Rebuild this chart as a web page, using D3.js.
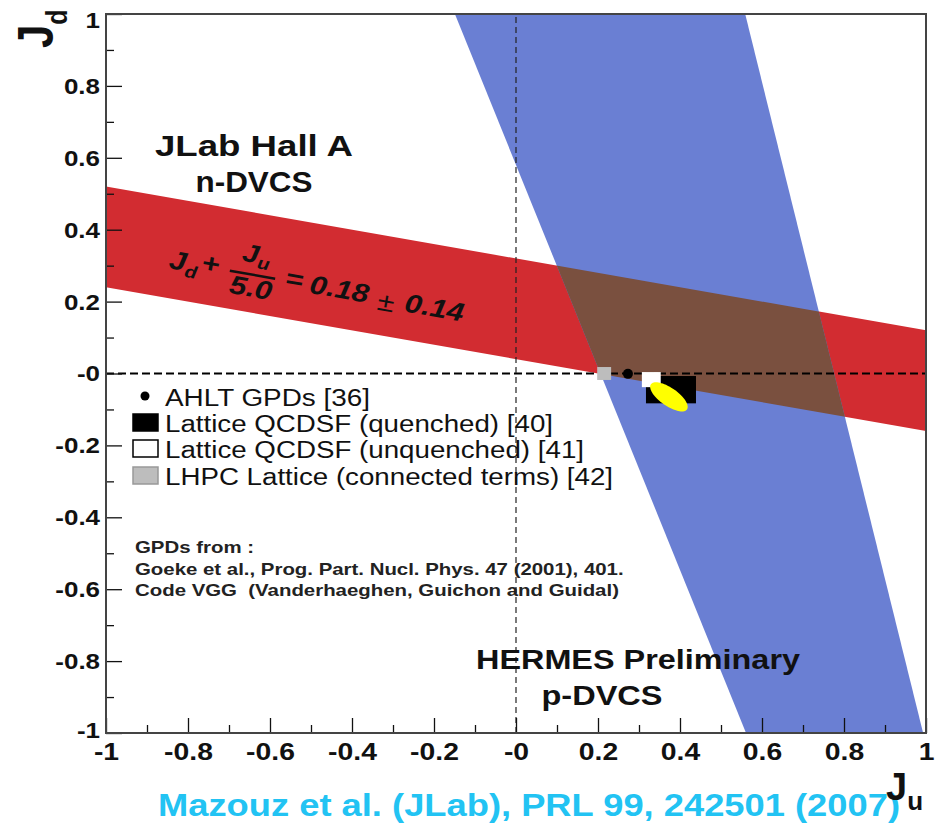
<!DOCTYPE html>
<html>
<head>
<meta charset="utf-8">
<script src="https://cdn.jsdelivr.net/npm/d3@7"></script>
<style>
  body { margin: 0; background: #fff; }
  svg { display: block; }
  text { font-family: "Liberation Sans", Arial, Helvetica, sans-serif; }
</style>
</head>
<body>
<svg id="chart" width="936" height="825"></svg>
<script>
// ---- axes -------------------------------------------------------------
const juDomain = [-1, 1];
const jdDomain = [-1, 1];
const majorTicks = [-1, -0.8, -0.6, -0.4, -0.2, 0, 0.2, 0.4, 0.6, 0.8, 1];
const minorTicks = [-0.9, -0.7, -0.5, -0.3, -0.1, 0.1, 0.3, 0.5, 0.7, 0.9];
const tickLabels = ["-1", "-0.8", "-0.6", "-0.4", "-0.2", "-0", "0.2", "0.4", "0.6", "0.8", "1"];

// ---- JLab Hall A n-DVCS constraint: Jd + Ju/5.0 = 0.18 +- 0.14 ----------
const jlabDenominator = 5.0;
const jlabValue = 0.18;
const jlabError = 0.14;

// ---- HERMES p-DVCS band edges, [Ju, Jd] ---------------------------------
const hermesLeftEdge = [[-0.149, 1], [0.561, -1]];
const hermesRightEdge = [[0.559, 1], [0.993, -1]];

// ---- model / lattice results -------------------------------------------
const ahltPoints = [{ ju: 0.273, jd: -0.001 }];
const qcdsfQuenched = [{ ju: 0.378, jd: -0.045, dju: 0.061, djd: 0.038 }];
const qcdsfUnquenched = [{ ju: 0.33, jd: -0.017, dju: 0.023, djd: 0.021 }];
const lhpcPoints = [{ ju: 0.215, jd: 0.0, dju: 0.017, djd: 0.018 }];
// VGG ellipse: centre and semi-axis vectors in (Ju, Jd)
const ellipseCenter = [0.373, -0.065];
const ellipseMajor = [0.044, -0.035];
const ellipseMinor = [-0.0126, -0.0205];

// ---- legend and annotation texts ---------------------------------------
const legendEntries = [
  { label: "AHLT GPDs [36]", kind: "dot", width: 205 },
  { label: "Lattice QCDSF (quenched) [40]", kind: "black", width: 388 },
  { label: "Lattice QCDSF (unquenched) [41]", kind: "white", width: 419 },
  { label: "LHPC Lattice (connected terms) [42]", kind: "gray", width: 448 }
];
const gpdNotes = [
  "GPDs from :",
  "Goeke et al., Prog. Part. Nucl. Phys. 47 (2001), 401.",
  "Code VGG\u00a0 (Vanderhaeghen, Guichon and Guidal)"
];
const citation = "Mazouz et al. (JLab), PRL 99, 242501 (2007)";

// ---- colours ------------------------------------------------------------
const RED = "#d22c31";
const BLUE = "#6a7fd3";
const BROWN = "#7a503f";
const YELLOW = "#ffff00";
const GRAY = "#bdbdbd";
const CYAN = "#22c3f3";
const SX = 1.18; // horizontal glyph stretch used throughout

const svg = d3.select("#chart");
const plot = { left: 106, right: 926, top: 14, bottom: 733 };

const x = d3.scaleLinear().domain(juDomain).range([plot.left, plot.right]);
const y = d3.scaleLinear().domain(jdDomain).range([plot.bottom, plot.top]);

function stretch(sel, sx) {
  sel.each(function () {
    const t = d3.select(this);
    const x0 = +t.attr("x") || 0;
    t.attr("transform", `translate(${x0},0) scale(${sx},1) translate(${-x0},0)`);
  });
}

svg.append("defs").append("clipPath").attr("id", "plotClip")
  .append("rect")
  .attr("x", plot.left).attr("y", plot.top)
  .attr("width", plot.right - plot.left).attr("height", plot.bottom - plot.top);

const line = d3.line().x(d => x(d[0])).y(d => y(d[1]));

// JLab band corners from the constraint
const jdOf = (ju, v) => v - ju / jlabDenominator;
const jlabBand = [
  [juDomain[0], jdOf(juDomain[0], jlabValue + jlabError)],
  [juDomain[1], jdOf(juDomain[1], jlabValue + jlabError)],
  [juDomain[1], jdOf(juDomain[1], jlabValue - jlabError)],
  [juDomain[0], jdOf(juDomain[0], jlabValue - jlabError)]
];
const hermesBand = [hermesLeftEdge[0], hermesRightEdge[0], hermesRightEdge[1], hermesLeftEdge[1]];

svg.select("defs").append("clipPath").attr("id", "hermesClip")
  .append("path").attr("d", line(hermesBand) + "Z");

const bands = svg.append("g").attr("clip-path", "url(#plotClip)");
bands.append("path").attr("d", line(jlabBand) + "Z").attr("fill", RED);
bands.append("path").attr("d", line(hermesBand) + "Z").attr("fill", BLUE);
bands.append("g").attr("clip-path", "url(#hermesClip)")
  .append("path").attr("d", line(jlabBand) + "Z").attr("fill", BROWN);

// zero lines
svg.append("line")
  .attr("x1", x(juDomain[0])).attr("x2", x(juDomain[1]))
  .attr("y1", y(0)).attr("y2", y(0))
  .attr("stroke", "#000").attr("stroke-width", 2).attr("stroke-dasharray", "8,4");
svg.append("line")
  .attr("x1", x(0)).attr("x2", x(0))
  .attr("y1", y(jdDomain[0])).attr("y2", y(jdDomain[1]))
  .attr("stroke", "#222").attr("stroke-width", 1.2).attr("stroke-dasharray", "6,4");

// lattice boxes and model points
const marks = svg.append("g");
function boxes(data, fill) {
  marks.selectAll(null).data(data).enter().append("rect")
    .attr("x", d => x(d.ju - d.dju))
    .attr("y", d => y(d.jd + d.djd))
    .attr("width", d => x(d.ju + d.dju) - x(d.ju - d.dju))
    .attr("height", d => y(d.jd - d.djd) - y(d.jd + d.djd))
    .attr("fill", fill);
}
boxes(lhpcPoints, GRAY);
boxes(qcdsfQuenched, "#000");
boxes(qcdsfUnquenched, "#fff");
marks.selectAll(null).data(ahltPoints).enter().append("circle")
  .attr("cx", d => x(d.ju)).attr("cy", d => y(d.jd)).attr("r", 5).attr("fill", "#000");

const ellipsePts = d3.range(0, 73).map(i => {
  const t = i / 72 * 2 * Math.PI;
  return [
    ellipseCenter[0] + ellipseMajor[0] * Math.cos(t) + ellipseMinor[0] * Math.sin(t),
    ellipseCenter[1] + ellipseMajor[1] * Math.cos(t) + ellipseMinor[1] * Math.sin(t)
  ];
});
marks.append("path").attr("d", line(ellipsePts) + "Z").attr("fill", YELLOW);

// axes: inward ticks on the left and bottom
const yAxis = svg.append("g").attr("transform", `translate(${plot.left},0)`)
  .call(d3.axisLeft(y).tickValues(majorTicks).tickSizeInner(-16).tickSizeOuter(0).tickPadding(6)
    .tickFormat((d, i) => tickLabels[i]));
yAxis.append("g").call(d3.axisLeft(y).tickValues(minorTicks).tickSizeInner(-8).tickSizeOuter(0).tickFormat(""));
const xAxis = svg.append("g").attr("transform", `translate(0,${plot.bottom})`)
  .call(d3.axisBottom(x).tickValues(majorTicks).tickSizeInner(-15).tickSizeOuter(0).tickPadding(10)
    .tickFormat((d, i) => tickLabels[i]));
xAxis.append("g").call(d3.axisBottom(x).tickValues(minorTicks).tickSizeInner(-8).tickSizeOuter(0).tickFormat(""));

[yAxis, xAxis].forEach(a => {
  a.attr("font-family", null).attr("font-size", null);
  a.selectAll(".domain").remove();
  a.selectAll("line").attr("stroke", "#111").attr("stroke-width", 1.3);
});
yAxis.selectAll(".tick text").attr("font-size", 22).attr("font-weight", "bold").attr("fill", "#111")
  .attr("dy", d => d === 1 ? "0.62em" : d === -1 ? "0.2em" : "0.34em");
stretch(yAxis.selectAll(".tick text"), SX);
xAxis.selectAll(".tick text").attr("font-size", 24).attr("font-weight", "bold").attr("fill", "#111");
stretch(xAxis.selectAll(".tick text"), SX);

// frame
svg.append("rect")
  .attr("x", plot.left).attr("y", plot.top)
  .attr("width", plot.right - plot.left).attr("height", plot.bottom - plot.top)
  .attr("fill", "none").attr("stroke", "#444").attr("stroke-width", 2);

// band annotations
svg.append("text").attr("x", 254).attr("y", 156).attr("text-anchor", "middle")
  .attr("font-size", 30).attr("font-weight", "bold").attr("fill", "#111")
  .attr("textLength", 198).attr("lengthAdjust", "spacingAndGlyphs").text("JLab Hall A");
svg.append("text").attr("x", 254).attr("y", 192).attr("text-anchor", "middle")
  .attr("font-size", 30).attr("font-weight", "bold").attr("fill", "#111")
  .attr("textLength", 117).attr("lengthAdjust", "spacingAndGlyphs").text("n-DVCS");
svg.append("text").attr("x", 638).attr("y", 669).attr("text-anchor", "middle")
  .attr("font-size", 27).attr("font-weight", "bold").attr("fill", "#111")
  .attr("textLength", 324).attr("lengthAdjust", "spacingAndGlyphs").text("HERMES Preliminary");
svg.append("text").attr("x", 602).attr("y", 705).attr("text-anchor", "middle")
  .attr("font-size", 27).attr("font-weight", "bold").attr("fill", "#111")
  .attr("textLength", 121).attr("lengthAdjust", "spacingAndGlyphs").text("p-DVCS");

// constraint formula written along the JLab band
const angle = Math.atan2(y(jdOf(1, jlabValue)) - y(jdOf(-1, jlabValue)), x(1) - x(-1)) * 180 / Math.PI;
const eq = svg.append("g")
  .attr("transform", `translate(168,268) rotate(${angle}) scale(${SX},1)`)
  .attr("font-weight", "bold").attr("font-style", "italic").attr("fill", "#111");
eq.append("text").attr("x", 0).attr("y", 0).attr("font-size", 26).text("J");
eq.append("text").attr("x", 14.5).attr("y", 6).attr("font-size", 17).text("d");
eq.append("text").attr("x", 35).attr("y", -3).attr("font-size", 26).attr("text-anchor", "middle").text("+");
eq.append("text").attr("x", 60).attr("y", -20).attr("font-size", 25).text("J");
eq.append("text").attr("x", 74).attr("y", -15).attr("font-size", 17).text("u");
eq.append("line").attr("x1", 52).attr("x2", 91).attr("y1", -8).attr("y2", -8)
  .attr("stroke", "#111").attr("stroke-width", 2.5);
eq.append("text").attr("x", 54).attr("y", 14).attr("font-size", 26).text("5.0");
eq.append("text").attr("x", 107).attr("y", -2).attr("font-size", 26).attr("text-anchor", "middle").text("=");
eq.append("text").attr("x", 121).attr("y", 0).attr("font-size", 26).text("0.18");
eq.append("text").attr("x", 187).attr("y", 5).attr("font-size", 26).attr("font-weight", "normal")
  .attr("font-style", "normal").attr("text-anchor", "middle").text("\u00b1");
eq.append("text").attr("x", 203).attr("y", 2).attr("font-size", 26).text("0.14");

// legend
const legend = svg.append("g");
const rowBase = [406, 432, 458, 485];
legendEntries.forEach((e, i) => {
  const b = rowBase[i];
  if (e.kind === "dot") {
    legend.append("circle").attr("cx", 145).attr("cy", b - 10).attr("r", 4.5).attr("fill", "#000");
  } else {
    legend.append("rect").attr("x", 133).attr("y", b - 18).attr("width", 25).attr("height", 17)
      .attr("fill", e.kind === "black" ? "#000" : e.kind === "white" ? "#fff" : GRAY)
      .attr("stroke", e.kind === "gray" ? "#999" : "#000").attr("stroke-width", 1.5);
  }
  legend.append("text").attr("x", 165).attr("y", b).attr("font-size", 23).attr("fill", "#111")
    .attr("textLength", e.width).attr("lengthAdjust", "spacingAndGlyphs").text(e.label);
});

// GPD source note
const noteBase = [553, 575, 596];
gpdNotes.forEach((t, i) => {
  const n = svg.append("text").attr("x", 135).attr("y", noteBase[i])
    .attr("font-size", 17.3).attr("font-weight", "bold").attr("fill", "#222").text(t);
  stretch(n, SX);
});

// reference line under the plot
svg.append("text").attr("x", 158).attr("y", 816).attr("font-size", 31).attr("font-weight", "bold")
  .attr("fill", CYAN).attr("textLength", 742).attr("lengthAdjust", "spacingAndGlyphs").text(citation);

// axis titles
const jdTitle = svg.append("text").attr("transform", `translate(53,48) rotate(-90) scale(1,${SX})`)
  .attr("font-weight", "bold").attr("fill", "#111");
jdTitle.append("tspan").attr("font-size", 42).text("J");
jdTitle.append("tspan").attr("font-size", 25).attr("dy", 12).text("d");

const juTitle = svg.append("text").attr("x", 886).attr("y", 800)
  .attr("font-weight", "bold").attr("fill", "#111");
juTitle.append("tspan").attr("font-size", 38).text("J");
juTitle.append("tspan").attr("font-size", 26).attr("dy", 10).text("u");
</script>
</body>
</html>
